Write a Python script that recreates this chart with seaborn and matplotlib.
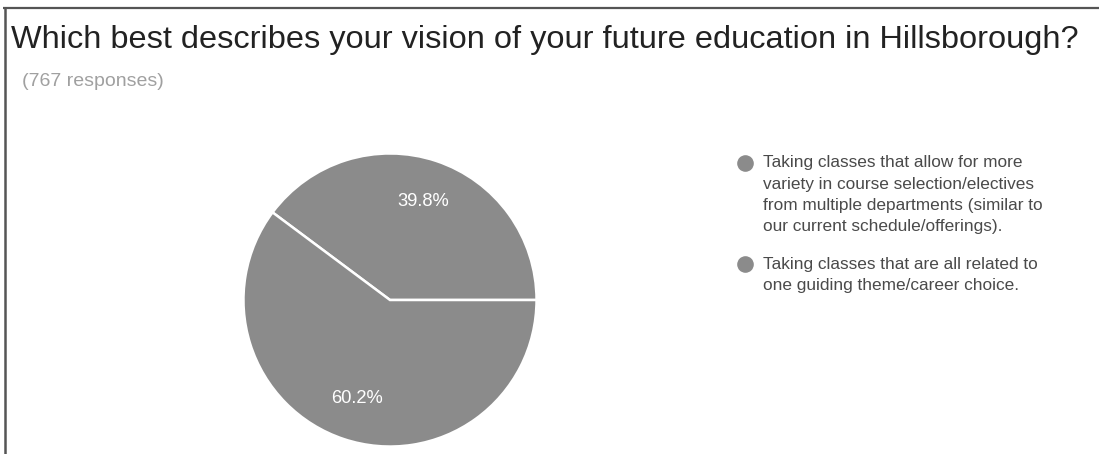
import matplotlib
matplotlib.use("Agg")
import matplotlib.pyplot as plt
import numpy as np
import seaborn as sns

sns.set_theme(style="white")
plt.rcParams['font.family'] = ['Liberation Sans', 'DejaVu Sans']

# Survey answers and their shares (percent)
answers = [
    "Taking classes that allow for more\nvariety in course selection/electives\nfrom multiple departments (similar to\nour current schedule/offerings).",
    "Taking classes that are all related to\none guiding theme/career choice.",
]
shares = [39.8, 60.2]
pct_labels = ["39.8%", "60.2%"]
title = "Which best describes your vision of your future education in Hillsborough?"
subtitle = "(767 responses)"

slice_colors = ["#8b8b8b", "#8b8b8b"]

W, H = 1099, 454
fig = plt.figure(figsize=(W / 100, H / 100), dpi=100)
fig.patch.set_facecolor("white")

# Card frame: top rule and left rule
frame = fig.add_axes([0, 0, 1, 1])
frame.set_xlim(0, W)
frame.set_ylim(H, 0)
frame.axis("off")
frame.plot([3, W], [8, 8], color="#555555", lw=1.6, solid_capstyle="butt")
frame.plot([5, 5], [8, H], color="#555555", lw=1.8, solid_capstyle="butt")

frame.text(11, 48, title, fontsize=23.4, color="#222222", va="baseline", ha="left")
frame.text(22, 86, subtitle, fontsize=14, color="#a0a0a0", va="baseline", ha="left")

# Pie
cx, cy, r = 390, 300, 148
pie_ax = fig.add_axes([(cx - r) / W, (H - cy - r) / H, 2 * r / W, 2 * r / H])
wedges, _ = pie_ax.pie(
    shares,
    colors=slice_colors,
    startangle=0,
    counterclock=True,
    radius=1,
    wedgeprops=dict(edgecolor="white", linewidth=1.8),
)
theta0 = 0.0
for share, lab in zip(shares, pct_labels):
    mid = np.deg2rad(theta0 + share * 3.6 / 2)
    pie_ax.text(0.71 * np.cos(mid), 0.71 * np.sin(mid), lab, color="white",
                fontsize=13.2, ha="center", va="center")
    theta0 += share * 3.6
pie_ax.set_xlim(-1.01, 1.01)
pie_ax.set_ylim(-1.01, 1.01)
pie_ax.set_aspect("equal")

# Legend
line_h = 21.3
y = 163
for ans, col in zip(answers, slice_colors):
    frame.scatter([745], [y], s=120, color=col, zorder=3)
    lines = ans.split("\n")
    for i, ln in enumerate(lines):
        frame.text(763, y + i * line_h, ln, fontsize=12.4, color="#4a4a4a",
                   va="center", ha="left")
    y += len(lines) * line_h + 16

fig.savefig("out.png", dpi=100, facecolor="white")
